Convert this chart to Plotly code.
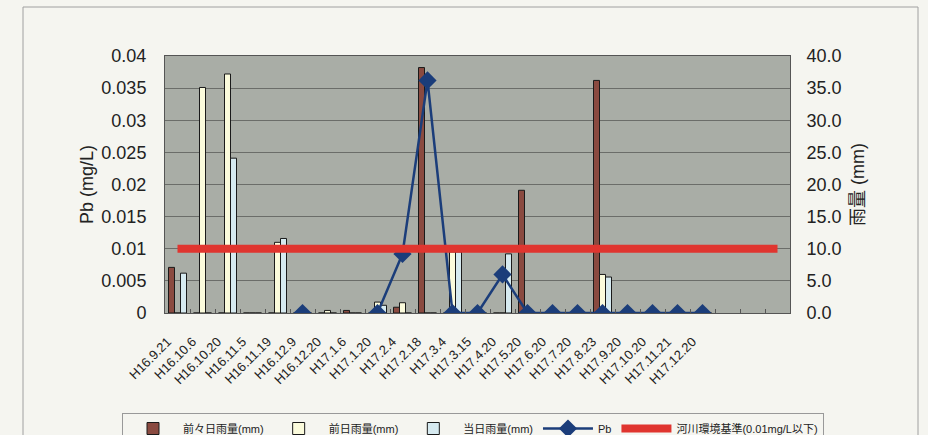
import plotly.graph_objects as go

categories = ["H16.9.21", "H16.10.6", "H16.10.20", "H16.11.5", "H16.11.19", "H16.12.9",
              "H16.12.20", "H17.1.6", "H17.1.20", "H17.2.4", "H17.2.18", "H17.3.4",
              "H17.3.15", "H17.4.20", "H17.5.20", "H17.6.20", "H17.7.20", "H17.8.23",
              "H17.9.20", "H17.10.20", "H17.11.21", "H17.12.20", "", "", ""]

rain_2days_before = [7.1, 0, 0, 0, 0, 0, 0, 0.4, 0, 0.9, 38.2, 0,
                     0, 0, 19.1, 0, 0, 36.2, 0, 0, 0, 0]
rain_day_before = [0, 35.1, 37.2, 0, 11.0, 0, 0.4, 0, 1.7, 1.6, 0, 9.5,
                   0, 0, 0, 0, 0, 6.0, 0, 0, 0, 0]
rain_same_day = [6.2, 0, 24.1, 0, 11.6, 0, 0, 0, 1.2, 0, 0, 9.5,
                 0, 9.2, 0, 0, 0, 5.6, 0, 0, 0, 0]
pb_values = [None, None, None, None, None, 0, None, None, 0, 0.0092, 0.0362, 0,
             0, 0.006, 0, 0, 0, 0, 0, 0, 0, 0]
standard_values = [0.01, 0.01, 0.01, 0.01, 0.01, 0.01, 0.01, 0.01, 0.01, 0.01, 0.01, 0.01,
                   0.01, 0.01, 0.01, 0.01, 0.01, 0.01, 0.01, 0.01, 0.01, 0.01, 0.01, 0.01, 0.01]

x_all = list(range(len(categories)))
x_data = x_all[:len(rain_2days_before)]

FONT = "Liberation Sans, Arial, Noto Sans CJK JP, sans-serif"
BG = "#f5f5f0"

fig = go.Figure()
fig.add_trace(go.Bar(x=x_data, y=rain_2days_before, name="前々日雨量(mm)",
                     marker=dict(color="#8a4a40", line=dict(color="#1a1a1a", width=1)), yaxis="y"))
fig.add_trace(go.Bar(x=x_data, y=rain_day_before, name="前日雨量(mm)",
                     marker=dict(color="#fbfbdc", line=dict(color="#1a1a1a", width=1)), yaxis="y"))
fig.add_trace(go.Bar(x=x_data, y=rain_same_day, name="当日雨量(mm)",
                     marker=dict(color="#d6eaf0", line=dict(color="#1a1a1a", width=1)), yaxis="y"))
fig.add_trace(go.Scatter(x=x_data, y=pb_values, name="Pb", mode="lines+markers",
                         connectgaps=False,
                         line=dict(color="#1b3d7a", width=2.5),
                         marker=dict(symbol="diamond", size=14, color="#1b3d7a"),
                         yaxis="y2"))
fig.add_trace(go.Scatter(x=x_all, y=standard_values, name="河川環境基準(0.01mg/L以下)",
                         mode="lines", line=dict(color="#e0352f", width=8), yaxis="y2"))

L, R, T, B = 165, 790, 56, 313
W, H = 928, 435
pw, ph = R - L, B - T

def px(xp):
    return (xp - L) / pw

def py(yp):
    return (B - yp) / ph

fig.update_layout(
    width=W, height=H,
    margin=dict(l=L, r=W - R, t=T, b=H - B, pad=0, autoexpand=False),
    paper_bgcolor=BG,
    plot_bgcolor="#a9ada6",
    font=dict(family=FONT, color="#222", size=12),
    barmode="group", bargap=0.28, bargroupgap=0,
    showlegend=True,
    legend=dict(orientation="h", x=px(122), xanchor="left", y=py(413), yanchor="top",
                bgcolor=BG, bordercolor="#999", borderwidth=1,
                font=dict(size=11, family=FONT), itemwidth=50,
                tracegroupgap=0),
    xaxis=dict(range=[-0.5, 24.5], tickmode="array", tickvals=x_all[:22],
               ticktext=categories[:22], tickangle=-45, automargin=False,
               tickfont=dict(size=13, family=FONT), showgrid=False,
               showline=True, linecolor="#555", linewidth=1, mirror=True,
               ticks="", zeroline=False, ticklabelstandoff=15, ticklabelshift=-10,
               minor=dict(tickvals=[i + 0.5 for i in range(24)], ticks="inside",
                          ticklen=4, tickcolor="#555")),
    yaxis=dict(side="right", range=[0, 40], dtick=5, tickformat=".1f", automargin=False,
               tickfont=dict(size=18, family=FONT),
               title=dict(text="雨量 (mm)", font=dict(size=18, family=FONT), standoff=10),
               showgrid=True, gridcolor="#6b6d69", gridwidth=1,
               showline=True, linecolor="#555", mirror=True,
               ticks="outside", ticklen=12, tickcolor="rgba(0,0,0,0)",
               zeroline=False),
    yaxis2=dict(overlaying="y", side="left", range=[0, 0.04], dtick=0.005, automargin=False,
                tickfont=dict(size=18, family=FONT),
                title=dict(text="Pb (mg/L)", font=dict(size=18, family=FONT), standoff=3),
                showgrid=False, zeroline=False,
                ticks="outside", ticklen=14, tickcolor="rgba(0,0,0,0)"),
    shapes=[dict(type="rect", xref="paper", yref="paper",
                 x0=px(23), x1=px(918), y0=py(445), y1=py(7),
                 line=dict(color="#a0a0a0", width=1), layer="below")],
)

fig.write_html(
    "out.html",
    config={"displayModeBar": False},
    post_script=f"document.body.style.margin='0';document.body.style.background='{BG}';"
                "document.body.style.overflow='hidden';",
)
